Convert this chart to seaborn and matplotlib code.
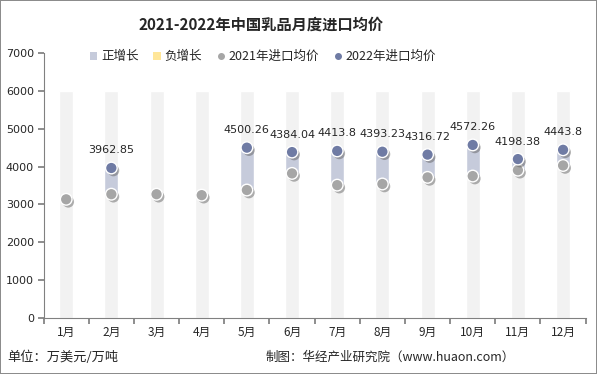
import matplotlib
matplotlib.use("Agg")
import matplotlib.pyplot as plt
import matplotlib.patheffects as pe
from matplotlib.lines import Line2D
from matplotlib.patches import Patch
import seaborn as sns
import pandas as pd

# data
months = ['1月', '2月', '3月', '4月', '5月', '6月', '7月', '8月', '9月', '10月', '11月', '12月']
price_2021 = [3135, 3270, 3270, 3245, 3380, 3820, 3510, 3540, 3715, 3750, 3905, 4030]
price_2022 = [None, 3962.85, None, None, 4500.26, 4384.04, 4413.8, 4393.23, 4316.72, 4572.26, 4198.38, 4443.8]
bg_level = [6000] * 12

sns.set_theme(style="white")
plt.rcParams['font.family'] = ['Noto Sans CJK SC', 'DejaVu Sans']

df = pd.DataFrame({'month': months, 'p2021': price_2021, 'p2022': price_2022, 'bg': bg_level})
df['pos'] = range(len(df))

fig = plt.figure(figsize=(5.97, 3.74), dpi=100)
fig.patch.set_edgecolor('#8c8c8c')
fig.patch.set_linewidth(1.2)
ax = fig.add_axes([0.073, 0.15, 0.908, 0.708])

# background column bands
sns.barplot(data=df, x='pos', y='bg', color='#f2f2f2', width=0.31, ax=ax,
            native_scale=True, saturation=1, zorder=0)

# growth range bars
has22 = df.dropna(subset=['p2022'])
for _, r in has22.iterrows():
    lo, hi = min(r.p2021, r.p2022), max(r.p2021, r.p2022)
    col = '#c6cbdb' if r.p2022 >= r.p2021 else '#ffe699'
    ax.bar(r.pos, hi - lo, bottom=lo, width=0.31, color=col, zorder=1)

shadow = [pe.SimplePatchShadow(offset=(1.5, -1.8), shadow_rgbFace='#555555', alpha=0.45), pe.Normal()]
sns.scatterplot(data=df, x='pos', y='p2021', color='#a6a6a6', s=70, edgecolor='white',
                linewidth=1.0, ax=ax, zorder=3)
sns.scatterplot(data=has22, x='pos', y='p2022', color='#6f7ba4', s=70, edgecolor='white',
                linewidth=1.0, ax=ax, zorder=4)
for coll in ax.collections:
    coll.set_path_effects(shadow)

for _, r in has22.iterrows():
    ax.annotate(f"{r.p2022:g}", (r.pos, r.p2022), xytext=(0, 9), textcoords='offset points',
                ha='center', va='bottom', fontsize=8, color='#262626', family='DejaVu Sans')

ax.set_xlim(-0.5, 11.5)
ax.set_ylim(0, 7000)
ax.set_yticks(range(0, 7001, 1000))
ax.set_yticklabels([str(v) for v in range(0, 7001, 1000)], fontsize=8, family='DejaVu Sans')
ax.set_xticks([i - 0.5 for i in range(13)])
ax.set_xticklabels([])
ax.set_xticks(range(12), minor=True)
ax.set_xticklabels(months, minor=True, fontsize=8.5)
ax.tick_params(axis='x', which='major', length=4, color='#808080', direction='out', bottom=True)
ax.tick_params(axis='x', which='minor', length=0, pad=6)
ax.tick_params(axis='y', length=4, color='#808080', direction='out', left=True, pad=3)
ax.set_xlabel('')
ax.set_ylabel('')
for s in ['top', 'right']:
    ax.spines[s].set_visible(False)
for s in ['left', 'bottom']:
    ax.spines[s].set_color('#808080')
    ax.spines[s].set_linewidth(0.8)

handles = [
    Patch(facecolor='#c6cbdb', edgecolor='none'),
    Patch(facecolor='#ffe699', edgecolor='none'),
    Line2D([], [], marker='o', ls='', color='#a6a6a6', markersize=4),
    Line2D([], [], marker='o', ls='', color='#6f7ba4', markersize=4),
]
labels = ['正增长', '负增长', '2021年进口均价', '2022年进口均价']
fig.legend(handles, labels, loc='center', bbox_to_anchor=(0.44, 0.848), ncol=4, frameon=False,
           fontsize=9, handlelength=0.6, handleheight=0.6, handletextpad=0.3, columnspacing=1.2)

fig.text(0.437, 0.933, '2021-2022年中国乳品月度进口均价', ha='center', va='center',
         fontsize=11, fontweight='bold', color='#262626')
fig.text(0.012, 0.045, '单位：万美元/万吨', ha='left', va='center', fontsize=9.5, color='#262626')
fig.text(0.862, 0.045, '制图：华经产业研究院（www.huaon.com）', ha='right', va='center',
         fontsize=9, color='#262626')

fig.savefig('out.png', dpi=100)
